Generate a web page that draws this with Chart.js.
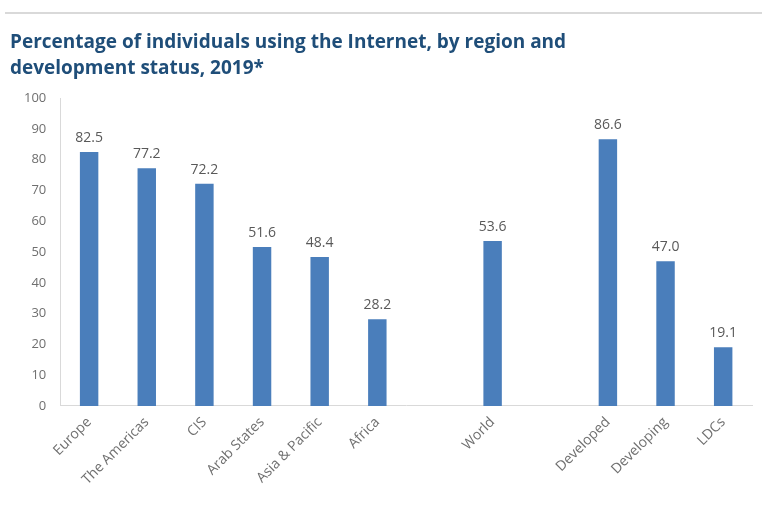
<!DOCTYPE html>
<html>
<head>
<meta charset="utf-8">
<script src="https://cdn.jsdelivr.net/npm/chart.js"></script>
<style>
  html, body { margin: 0; padding: 0; background: #fff; }
  #wrap { position: relative; width: 762px; height: 517px; }
  #rule { position: absolute; left: 5px; right: 0; top: 12px; border-top: 2px solid #d9d9d9; }
  canvas { position: absolute; left: 0; top: 0; }
</style>
</head>
<body>
<div id="wrap">
  <div id="rule"></div>
  <canvas id="internetChart" width="762" height="517"></canvas>
</div>
<script>
// categories (empty strings leave the gaps between groups)
const regions = ['Europe', 'The Americas', 'CIS', 'Arab States', 'Asia & Pacific', 'Africa', '', 'World', '', 'Developed', 'Developing', 'LDCs'];
const usersPct = [82.5, 77.2, 72.2, 51.6, 48.4, 28.2, null, 53.6, null, 86.6, 47.0, 19.1];
const yTicks = [0, 10, 20, 30, 40, 50, 60, 70, 80, 90, 100];

// values written above each bar
const valueLabels = {
  id: 'valueLabels',
  afterDatasetsDraw(chart) {
    const ctx = chart.ctx;
    const meta = chart.getDatasetMeta(0);
    ctx.save();
    ctx.font = '14px "Open Sans"';
    ctx.fillStyle = '#595959';
    ctx.textAlign = 'center';
    ctx.textBaseline = 'bottom';
    meta.data.forEach((bar, i) => {
      const v = usersPct[i];
      if (v == null) return;
      ctx.fillText(v.toFixed(1), bar.x, bar.y - 7);
    });
    ctx.restore();
  }
};

new Chart(document.getElementById('internetChart').getContext('2d'), {
  type: 'bar',
  data: {
    labels: regions,
    datasets: [{
      data: usersPct,
      backgroundColor: '#4a7ebb',
      barPercentage: 0.32,
      categoryPercentage: 1.0
    }]
  },
  options: {
    responsive: false,
    animation: false,
    layout: { padding: { left: 10, right: 10, top: 30, bottom: 21 } },
    plugins: {
      legend: { display: false },
      tooltip: { enabled: false },
      title: {
        display: true,
        align: 'start',
        text: ['Percentage of individuals using the Internet, by region and', 'development status, 2019*'],
        color: '#1f4e79',
        font: { family: '"Open Sans"', size: 19, weight: 'bold', lineHeight: 1.37 },
        padding: { top: 0, bottom: 16 }
      }
    },
    scales: {
      x: {
        grid: { display: false, drawTicks: false },
        border: { color: '#d9d9d9' },
        ticks: {
          color: '#6f6f6f',
          font: { family: '"Open Sans"', size: 14 },
          maxRotation: 45,
          minRotation: 45,
          padding: 8,
          autoSkip: false
        }
      },
      y: {
        min: 0,
        max: 100,
        afterBuildTicks(axis) { axis.ticks = yTicks.map(v => ({ value: v })); },
        grid: { display: false, drawTicks: false },
        border: { color: '#d9d9d9' },
        ticks: {
          color: '#6f6f6f',
          font: { family: '"Open Sans"', size: 13 },
          padding: 14
        }
      }
    }
  },
  plugins: [valueLabels]
});
</script>
</body>
</html>
